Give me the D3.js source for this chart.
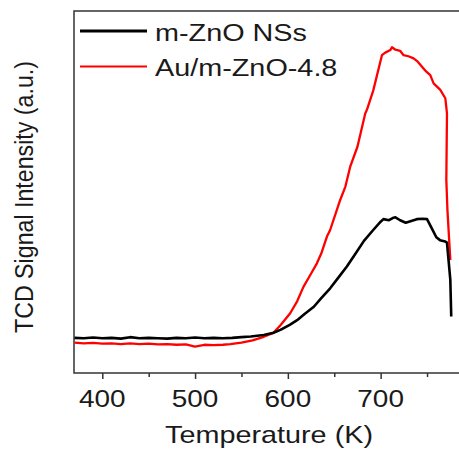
<!DOCTYPE html>
<html>
<head>
<meta charset="utf-8">
<script src="https://cdn.jsdelivr.net/npm/d3@7"></script>
<style>
  html, body { margin: 0; padding: 0; background: #fff; }
  svg { display: block; }
  text { font-family: "Liberation Sans", Arial, sans-serif; fill: #1a1a1a; }
</style>
</head>
<body>
<svg id="chart"></svg>
<script>
// значения (температура, К / интенсивность, отн. ед.)
const seriesNames = ["m-ZnO NSs", "Au/m-ZnO-4.8"];
const seriesColors = ["#000000", "#ff0000"];

const blackT = [370, 380, 390, 400, 410, 420, 430, 440, 450, 460, 470, 480, 490, 500, 510, 520, 530, 540, 550, 560,
  574, 584.5, 592, 602, 610, 618, 628, 636, 645.6, 654, 663.6, 673, 682, 692, 700, 703, 709, 713, 716, 721,
  727, 733, 739, 745, 750, 755, 760, 764, 769.7, 771.5, 773.2, 775.1, 776.1];
const blackI = [9.7, 9.6, 9.8, 9.6, 9.7, 9.5, 9.9, 9.6, 9.7, 9.6, 9.5, 9.7, 9.6, 9.8, 9.6, 9.7, 9.6, 9.7, 9.9, 10.1,
  10.5, 11.1, 11.9, 13.3, 14.6, 16.3, 18.3, 20.7, 23.4, 26.2, 29.4, 33.0, 36.5, 39.5, 41.8, 42.5, 42.2, 42.8, 43.0, 42.2,
  41.5, 42.0, 42.5, 42.6, 42.5, 40.0, 37.5, 36.7, 36.3, 36.0, 31.2, 25.7, 15.6];

const redT = [370, 380, 390, 400, 410, 420, 430, 440, 450, 460, 470, 480, 490, 500, 510, 520, 530, 538, 550, 562,
  574, 584.5, 592, 602.5, 610, 616.8, 624, 631.3, 636, 642.1, 645.6, 656.4, 662, 667.2, 675, 683.4, 685.2, 692,
  701.4, 705, 710.4, 712.2, 716, 721, 724.7, 730, 735.5, 740, 744.6, 749, 753.5, 757.1, 764.3, 769.7, 771.5,
  770.8, 772, 775.1];
const redI = [8.4, 8.2, 8.3, 8.1, 8.2, 8.0, 8.2, 8.0, 8.1, 7.9, 8.0, 7.8, 7.9, 7.3, 7.8, 7.7, 7.8, 8.0, 8.4, 9.0,
  10.0, 11.1, 13.2, 16.5, 19.8, 23.8, 27.0, 30.3, 33.0, 37.7, 39.5, 47.8, 51.5, 57.0, 62.5, 71.7, 72.7, 78.0,
  87.8, 88.5, 89.2, 90.0, 89.3, 89.0, 87.8, 87.5, 86.9, 86.0, 84.6, 83.3, 82.3, 80.0, 78.2, 75.9, 71.7,
  53.3, 45.0, 31.2];

const xMajorTicks = [400, 500, 600, 700];
const xMinorTicks = [450, 550, 650, 750];

const width = 459;
const height = 451;
const plotLeft = 74, plotTop = 11, plotBottom = 373;

const svg = d3.select("#chart")
  .attr("width", width)
  .attr("height", height);

const scaleX = d3.scaleLinear().domain([369.5, 785]).range([plotLeft, 459.5]);
const scaleY = d3.scaleLinear().domain([0, 100]).range([plotBottom, plotTop]);

// рамка (правая граница за краем картинки)
svg.append("rect")
  .attr("x", plotLeft)
  .attr("y", plotTop)
  .attr("width", 400)
  .attr("height", plotBottom - plotTop)
  .attr("fill", "none")
  .attr("stroke", "#333")
  .attr("stroke-width", 1.5);

// ось OX: большие и малые риски
const minorAxis = svg.append("g")
  .attr("transform", `translate(0, ${plotBottom})`)
  .call(d3.axisBottom(scaleX).tickValues(xMinorTicks).tickSize(4).tickFormat(""));
minorAxis.select(".domain").remove();
minorAxis.selectAll("line").attr("stroke", "#333").attr("stroke-width", 1.5);

const axisX = svg.append("g")
  .attr("transform", `translate(0, ${plotBottom})`)
  .call(d3.axisBottom(scaleX).tickValues(xMajorTicks).tickSize(6).tickFormat(""));
axisX.select(".domain").remove();
axisX.selectAll("line").attr("stroke", "#333").attr("stroke-width", 1.5);

// подписи рисок (картинка растянута по горизонтали)
svg.append("g")
  .selectAll("text")
  .data(xMajorTicks)
  .enter()
  .append("text")
  .attr("transform", d => `translate(${scaleX(d)}, 407) scale(1.2, 1)`)
  .attr("text-anchor", "middle")
  .style("font-size", "23.3px")
  .text(d => d);

svg.append("text")
  .attr("transform", "translate(269, 443) scale(1.2, 1)")
  .attr("text-anchor", "middle")
  .style("font-size", "24px")
  .text("Temperature (K)");

svg.append("text")
  .attr("transform", "translate(33, 197) rotate(-90) scale(1, 1.12)")
  .attr("text-anchor", "middle")
  .style("font-size", "23.2px")
  .text("TCD Signal Intensity (a.u.)");

// кривые
const line = d3.line()
  .x(d => scaleX(d[0]))
  .y(d => scaleY(d[1]));

const curves = [
  { data: redT.map((t, i) => [t, redI[i]]), color: seriesColors[1], w: 2.3 },
  { data: blackT.map((t, i) => [t, blackI[i]]), color: seriesColors[0], w: 2.6 }
];

svg.append("g")
  .selectAll("path")
  .data(curves)
  .enter()
  .append("path")
  .attr("d", d => line(d.data))
  .attr("fill", "none")
  .attr("stroke", d => d.color)
  .attr("stroke-width", d => d.w)
  .attr("stroke-linejoin", "round");

// легенда
const legendY = [31, 66.5];
const legend = svg.append("g");
legend.selectAll("line")
  .data(seriesNames)
  .enter()
  .append("line")
  .attr("x1", 80)
  .attr("x2", 147)
  .attr("y1", (d, i) => legendY[i])
  .attr("y2", (d, i) => legendY[i])
  .attr("stroke", (d, i) => seriesColors[i])
  .attr("stroke-width", (d, i) => i === 0 ? 3 : 2);

legend.selectAll("text")
  .data(seriesNames)
  .enter()
  .append("text")
  .attr("transform", (d, i) => `translate(155, ${legendY[i] + 9.5}) scale(1.2, 1)`)
  .style("font-size", "24px")
  .text(d => d);
</script>
</body>
</html>
